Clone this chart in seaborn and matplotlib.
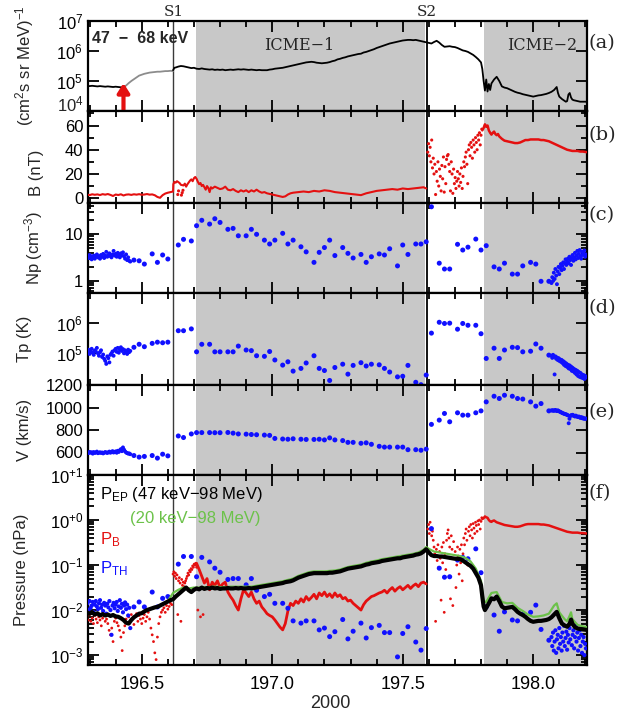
import numpy as np
import pandas as pd
import matplotlib
matplotlib.use("Agg")
import matplotlib.pyplot as plt
import matplotlib.ticker as mticker
import seaborn as sns

sns.set_style("ticks")
plt.rcParams["font.family"] = ["Liberation Sans", "DejaVu Sans"]
plt.rcParams["mathtext.fontset"] = "custom"
plt.rcParams["mathtext.rm"] = "Liberation Sans"
plt.rcParams["mathtext.it"] = "Liberation Sans:italic"
plt.rcParams["mathtext.bf"] = "Liberation Sans:bold"
plt.rcParams["axes.unicode_minus"] = True

RED = "#e41010"
BLUE = "#1010ff"
GREEN = "#6cc24a"
SHADE = "#c8c8c8"
SERIF = "DejaVu Serif"

# ---------------- event times (day of year 2000) ----------------
XMIN, XMAX = 196.294, 198.205
S1, S2 = 196.621, 197.594
ICME1 = (196.707, 197.585)
ICME2_START = 197.81
arrow_t, arrow_tip_log = 196.43, 4.93

# ---------------- (a) 47-68 keV flux, log10 ----------------
flux_pre = [(196.29,4.84),(196.30,4.83),(196.31,4.84),(196.32,4.83),(196.33,4.82),(196.34,4.83),(196.35,4.82),
            (196.36,4.81),(196.37,4.82),(196.38,4.81),(196.39,4.80),(196.40,4.81),(196.41,4.80),(196.42,4.79),(196.43,4.79)]
flux_rise = [(196.43,4.79),(196.44,4.85),(196.45,4.93),(196.46,5.00),(196.47,5.06),(196.48,5.12),(196.49,5.18),
             (196.50,5.21),(196.51,5.24),(196.52,5.26),(196.53,5.28),(196.54,5.29),(196.55,5.30),(196.56,5.31),
             (196.57,5.31),(196.58,5.32),(196.59,5.33),(196.60,5.33),(196.61,5.34),(196.62,5.33)]
flux_post = [(196.62,5.36),(196.625,5.44),(196.63,5.45),(196.64,5.48),(196.65,5.50),(196.66,5.49),(196.67,5.47),
             (196.68,5.45),(196.69,5.43),(196.70,5.44),(196.71,5.41),(196.72,5.40),(196.73,5.42),(196.74,5.40),
             (196.75,5.39),(196.76,5.38),(196.77,5.39),(196.78,5.37),(196.79,5.38),(196.80,5.37),(196.81,5.38),
             (196.82,5.36),(196.83,5.37),(196.84,5.38),(196.85,5.37),(196.86,5.38),(196.87,5.39),(196.88,5.38),
             (196.89,5.39),(196.90,5.38),(196.91,5.37),(196.92,5.38),(196.93,5.37),(196.94,5.36),(196.95,5.37),
             (196.96,5.36),(196.97,5.36),(196.98,5.36),(196.99,5.38),(197.00,5.39),(197.01,5.41),(197.02,5.42),
             (197.03,5.43),(197.04,5.44),(197.05,5.46),(197.06,5.48),(197.07,5.50),(197.08,5.52),(197.09,5.54),
             (197.10,5.56),(197.11,5.58),(197.12,5.60),(197.13,5.62),(197.14,5.63),(197.15,5.64),(197.16,5.63),
             (197.17,5.61),(197.18,5.60),(197.19,5.59),(197.20,5.60),(197.21,5.61),(197.22,5.63),(197.23,5.66),
             (197.24,5.68),(197.25,5.72),(197.26,5.74),(197.27,5.77),(197.28,5.79),(197.29,5.82),(197.30,5.84),
             (197.31,5.86),(197.32,5.88),(197.33,5.90),(197.34,5.91),(197.35,5.95),(197.36,5.97),(197.37,6.00),
             (197.38,6.03),(197.39,6.06),(197.40,6.10),(197.41,6.13),(197.42,6.16),(197.43,6.19),(197.44,6.22),
             (197.45,6.25),(197.46,6.27),(197.47,6.29),(197.48,6.31),(197.49,6.33),(197.50,6.35),(197.51,6.36),
             (197.52,6.37),(197.53,6.37),(197.54,6.36),(197.55,6.37),(197.56,6.35),(197.57,6.33),(197.58,6.31),
             (197.59,6.29),(197.60,6.27),(197.61,6.25),(197.62,6.30),(197.63,6.34),(197.64,6.28),(197.65,6.20),
             (197.66,6.14),(197.67,6.15),(197.68,6.16),(197.69,6.14),(197.70,6.13),(197.71,6.10),(197.72,6.06),
             (197.73,6.02),(197.74,6.00),(197.75,5.97),(197.76,5.92),(197.77,5.87),(197.78,5.80),(197.79,5.72),
             (197.80,5.62),(197.805,5.40),(197.81,5.00),(197.815,4.68),(197.82,5.05),(197.825,4.65),(197.83,4.90),
             (197.835,4.70),(197.84,4.92),(197.85,5.05),(197.86,5.14),(197.87,5.00),(197.88,4.82),(197.89,4.78),
             (197.90,4.76),(197.91,4.72),(197.92,4.68),(197.93,4.64),(197.94,4.61),(197.95,4.59),(197.96,4.56),
             (197.97,4.54),(197.98,4.52),(197.99,4.50),(198.00,4.48),(198.01,4.50),(198.02,4.52),(198.03,4.53),
             (198.04,4.55),(198.05,4.57),(198.06,4.60),(198.07,4.64),(198.08,4.70),(198.09,4.80),(198.095,4.60),
             (198.10,4.48),(198.11,4.40),(198.12,4.34),(198.125,4.31),(198.13,4.33),(198.135,4.55),(198.14,4.60),
             (198.145,4.45),(198.15,4.38),(198.155,4.36),(198.16,4.35),(198.17,4.33),(198.18,4.31),(198.19,4.31),
             (198.20,4.31),(198.21,4.30)]

# ---------------- (b) B (nT) ----------------
b_main = [(196.29,3.0),(196.30,2.5),(196.31,3.2),(196.32,2.8),(196.33,3.1),(196.34,2.6),(196.35,3.3),(196.36,2.9),
          (196.37,3.4),(196.38,2.7),(196.39,1.8),(196.40,3.0),(196.41,2.6),(196.42,3.2),(196.43,2.2),(196.44,2.9),
          (196.45,3.1),(196.46,2.7),(196.47,3.2),(196.48,2.9),(196.49,3.3),(196.50,2.8),(196.51,3.0),(196.52,3.4),
          (196.53,2.9),(196.54,3.1),(196.55,2.4),(196.56,1.0),(196.57,0.3),(196.58,2.5),(196.59,3.8),(196.60,4.5),
          (196.61,5.0),(196.62,5.5),(196.621,11.5),(196.625,13.5),(196.63,12.8),(196.635,14.0),(196.645,12.5),
          (196.65,11.0),(196.66,10.5),(196.665,12.0),(196.67,9.5),(196.675,11.5),(196.68,13.0),(196.685,14.5),
          (196.69,15.5),(196.695,14.0),(196.70,16.5),(196.705,17.5),(196.71,16.0),(196.715,13.5),(196.72,11.5),
          (196.725,12.5),(196.73,10.0),(196.735,11.0),(196.74,9.0),(196.745,7.0),(196.75,10.0),(196.755,8.5),
          (196.76,5.0),(196.765,9.0),(196.77,8.0),(196.78,9.5),(196.79,8.5),(196.80,7.5),(196.81,8.0),(196.82,9.5),
          (196.83,7.0),(196.84,6.5),(196.85,7.5),(196.86,6.0),(196.87,5.0),(196.88,6.5),(196.89,5.5),(196.90,6.5),
          (196.91,5.0),(196.92,6.5),(196.93,5.5),(196.94,7.0),(196.95,5.5),(196.96,4.5),(196.97,5.0),(196.98,4.0),
          (196.99,3.5),(197.00,3.0),(197.01,2.5),(197.02,2.0),(197.03,1.5),(197.04,1.0),(197.05,1.5),(197.06,3.0),
          (197.07,4.0),(197.08,4.5),(197.10,5.0),(197.12,5.5),(197.14,5.0),(197.16,6.0),(197.18,5.5),(197.20,6.5),
          (197.22,6.0),(197.24,5.0),(197.26,4.5),(197.28,4.0),(197.30,3.5),(197.32,3.0),(197.34,2.5),(197.36,4.0),
          (197.38,5.0),(197.40,6.0),(197.42,6.5),(197.44,7.0),(197.46,7.5),(197.48,7.0),(197.50,8.0),(197.52,7.5),
          (197.54,8.0),(197.56,8.5),(197.58,9.0),(197.59,8.0)]
b_dips = [(196.638,3.0),(196.641,6.0),(196.652,2.5),(196.655,4.5),(196.658,6.5)]
t_sheath2 = [197.596,197.599,197.602,197.605,197.608,197.611,197.614,197.617,197.620,197.623,
             197.626,197.629,197.632,197.635,197.638,197.641,197.644,197.647,197.650,197.653,
             197.656,197.659,197.662,197.665,197.668,197.671,197.674,197.677,197.680,197.683,
             197.686,197.689,197.692,197.695,197.698,197.701,197.704,197.707,197.710,197.713,
             197.716,197.719,197.722,197.725,197.728,197.731,197.734,197.737,197.740,197.743,
             197.746,197.749,197.752,197.755,197.758,197.761,197.764,197.767,197.770,197.773,
             197.776,197.779,197.782,197.785,197.788,197.791,197.794,197.797,197.800,197.803]
b_sheath2 = [38,45,35,42,30,48,25,33,20,28,
             3,22,14,30,10,24,18,6,27,16,
             34,5,26,12,32,35,36,28,22,6,
             30,20,4,24,12,17,8,14,22,16,
             10,20,13,25,8,18,30,26,34,38,
             28,12,40,44,35,46,42,33,48,44,
             38,50,46,40,52,48,54,44,52,57]
b_icme2 = [(197.805,56),(197.81,58),(197.815,61),(197.82,59),(197.825,60),(197.83,56),(197.835,54),(197.84,52.5),
           (197.845,54),(197.85,55),(197.855,53),(197.86,52),(197.865,53),(197.87,51),(197.88,49),(197.89,47.5),
           (197.90,47),(197.91,46.5),(197.92,46),(197.93,45.5),(197.94,45.5),(197.95,46),(197.96,47),(197.97,48),
           (197.98,48),(197.99,48.5),(198.00,48.5),(198.01,48.5),(198.02,48.5),(198.03,48),(198.04,48),(198.05,47.5),
           (198.06,47),(198.07,46),(198.08,45),(198.09,44),(198.10,43),(198.11,42),(198.12,41),(198.13,40),
           (198.14,39.5),(198.15,39),(198.16,39),(198.17,39),(198.18,38.5),(198.19,38.5),(198.205,38)]

# ---------------- plasma: early cluster, hourly, late cluster ----------------
t_early = [196.292,196.296,196.300,196.304,196.308,196.312,196.316,196.320,196.324,196.328,
           196.332,196.336,196.340,196.344,196.348,196.352,196.356,196.360,196.364,196.368,
           196.372,196.376,196.380,196.384,196.388,196.392,196.396,196.400,196.404,196.408,
           196.412,196.416,196.420,196.424,196.428,196.432,196.436,196.440,196.444,196.448,
           196.452,196.456]
np_early = [3.3,3.1,3.6,3.4,2.9,3.2,3.5,3.0,3.3,3.7,3.2,3.4,3.0,3.6,3.3,3.8,3.1,3.5,4.2,3.3,
            3.6,3.9,3.4,3.2,3.7,4.4,3.5,3.8,3.3,4.0,3.6,3.2,3.9,3.5,4.1,3.4,3.0,3.7,2.8,3.2,2.7,2.6]
tp_early_log = [5.05,5.12,4.98,5.08,5.15,5.02,4.95,5.10,5.06,5.18,5.00,4.92,5.04,5.10,4.88,4.96,4.82,4.75,4.65,4.90,
                4.84,4.70,4.95,5.00,5.06,4.92,5.10,5.15,5.05,5.18,5.02,5.12,5.20,5.08,5.14,5.00,5.10,5.06,4.98,5.12,
                5.04,5.08]
v_early = [600,595,605,598,602,590,604,596,600,608,594,598,602,596,600,592,598,604,600,596,
           602,608,598,605,612,600,604,610,598,615,605,620,630,612,645,625,610,600,595,590,592,585]
pth_early_log = [-1.85,-2.00,-1.80,-1.95,-1.90,-1.82,-2.05,-1.88,-1.80,-1.92,-1.98,-1.85,-1.78,-1.95,-1.88,-2.02,
                 -1.84,-1.90,-2.08,-1.86,-1.94,-1.80,-2.00,-2.55,-1.90,-1.84,-1.96,-1.88,-1.82,-2.02,-1.92,-1.78,
                 -1.95,-1.86,-2.05,-1.90,-1.83,-1.98,-1.88,-2.12,-1.95,-2.40]

t_hour = [196.47,196.49,196.51,196.54,196.56,196.58,196.60,
          196.64,196.66,196.69,
          196.71,196.73,196.76,196.78,196.80,196.83,196.85,196.87,196.90,196.92,196.94,196.97,196.99,
          197.01,197.04,197.06,197.08,197.11,197.13,197.16,197.18,197.20,197.22,197.24,197.27,197.29,
          197.31,197.34,197.36,197.38,197.41,197.43,197.45,197.48,197.50,197.52,197.55,197.57,197.59,
          197.61,197.64,197.66,197.68,197.71,197.73,197.75,197.78,197.80,
          197.82,197.85,197.87,197.89,197.92,197.94,197.96,197.99,
          198.01,198.03,198.06]
np_hour = [2.8,2.7,2.3,3.8,2.5,3.6,2.95,
           5.9,7.8,7.2,
           15.3,20,16.6,21.6,18,12.8,13.4,9.3,9.3,12.8,10,7.5,6.2,
           7.5,10.5,6.2,7.5,5.4,4.2,2.5,4.1,5.2,7.5,3.5,5.2,3.9,
           3.1,3.7,2.5,3.3,3.8,3.6,4.9,2.1,5.9,3.7,6.2,6.2,6.9,
           39,2.4,1.8,1.8,6.1,4.6,5.3,7.9,4.6,
           5.7,2.0,1.8,2.4,1.4,1.4,2.1,2.5,
           2.3,0.98,0.98]
tp_hour_log = [5.2,5.3,5.22,5.33,5.37,5.35,5.37,
               5.75,5.75,5.81,
               5.05,5.3,5.3,5.05,5.05,5.05,5.05,5.24,5.11,5.09,4.92,4.9,5.06,
               4.78,4.61,4.72,4.41,4.5,4.68,4.92,4.5,4.43,4.10,4.53,4.64,4.31,
               4.6,4.69,4.58,4.64,4.62,4.5,4.38,4.22,4.24,4.6,4.04,3.96,4.28,
               5.67,6.03,5.99,6.0,5.8,5.99,5.93,5.93,5.65,
               4.83,5.17,4.83,5.11,5.2,5.19,5.05,5.07,
               5.31,5.17,4.94]
v_hour = [573,559,565,573,550,585,570,
          747,733,765,
          777,777,777,776,776,778,772,765,763,760,758,755,752,
          725,720,718,722,718,716,716,718,712,730,712,706,690,
          690,682,686,673,655,648,648,648,648,625,625,620,630,
          850,888,947,873,953,932,932,953,970,
          1050,1100,1080,1109,1100,1080,1075,1050,
          1012,1035,970]
pth_hour_log = [-1.93,-1.82,-1.93,-1.60,-1.93,-1.74,-1.70,
                -0.98,-0.81,-0.81,
                -1.26,-0.83,-0.93,-1.07,-1.16,-1.32,-1.30,-1.30,-1.44,-1.30,-1.56,-1.70,-1.65,
                -1.85,-1.85,-1.96,-2.24,-2.29,-2.24,-2.24,-2.44,-2.40,-2.59,-2.48,-2.21,-2.64,
                -2.47,-2.29,-2.62,-2.39,-2.34,-2.50,-2.50,-3.04,-2.52,-2.37,-2.71,-2.89,-2.41,
                -0.19,-1.07,-1.27,-1.26,-0.89,-0.83,-0.86,-0.64,-1.17,
                -1.93,-2.11,-2.47,-2.04,-2.22,-2.24,-2.09,-2.05,
                -1.89,-2.43,-2.67]

t_late = [198.070,198.073,198.076,198.079,198.082,198.085,198.088,198.091,198.094,198.097,
          198.100,198.103,198.106,198.109,198.112,198.115,198.118,198.121,198.124,198.127,
          198.130,198.133,198.136,198.139,198.142,198.145,198.148,198.151,198.154,198.157,
          198.160,198.163,198.166,198.169,198.172,198.175,198.178,198.181,198.184,198.187,
          198.190,198.193,198.196,198.199,198.202]
np_late = [0.9,1.2,1.0,1.5,1.1,1.8,1.3,0.85,1.6,2.0,1.4,1.9,2.3,1.7,2.1,2.5,1.8,2.4,2.9,2.2,
           2.6,3.0,2.4,3.3,2.8,2.2,3.1,3.6,2.7,3.2,4.0,2.9,3.5,4.4,3.1,3.8,4.6,3.4,3.0,4.2,
           3.6,3.9,4.5,3.3,3.7]
tp_late_log = [4.92,4.85,4.95,4.88,4.30,4.90,4.82,4.86,4.78,4.84,4.75,4.80,4.72,4.78,4.68,4.74,4.62,4.70,4.58,4.66,
               4.55,4.62,4.50,4.60,4.48,4.56,4.42,4.52,4.40,4.48,4.35,4.45,4.30,4.42,4.25,4.38,4.22,4.35,4.20,4.30,
               4.18,4.28,4.15,4.25,4.20]
v_late = [975,972,976,970,974,978,972,968,975,970,965,962,958,955,950,948,945,942,940,938,
          935,930,860,900,925,932,928,935,930,925,920,928,922,918,915,920,912,908,915,905,
          910,900,905,898,902]
pth_late_log = [-2.60,-2.80,-2.50,-2.90,-2.70,-2.45,-2.95,-2.65,-2.55,-2.85,-2.40,-2.75,-2.60,-2.90,-2.50,
                -2.70,-2.35,-2.80,-2.62,-2.48,-2.88,-2.55,-2.72,-2.40,-2.65,-2.30,-2.78,-2.55,-2.45,-2.85,
                -2.60,-2.35,-2.70,-2.50,-2.90,-2.62,-2.45,-2.80,-2.55,-2.95,-2.70,-2.60,-3.00,-2.75,-2.85]

# ---------------- (f) pressures, log10 nPa ----------------
pep_log = [(196.29,-2.05),(196.30,-2.08),(196.31,-2.05),(196.32,-2.10),(196.33,-2.07),(196.34,-2.12),(196.35,-2.09),
           (196.36,-2.12),(196.37,-2.10),(196.38,-2.13),(196.39,-2.11),(196.40,-2.14),(196.41,-2.15),(196.42,-2.18),
           (196.43,-2.22),(196.44,-2.28),(196.45,-2.30),(196.46,-2.22),(196.47,-2.16),(196.48,-2.12),(196.49,-2.08),
           (196.50,-2.07),(196.51,-2.03),(196.52,-2.00),(196.53,-1.98),(196.54,-1.96),(196.55,-1.94),(196.56,-1.93),
           (196.57,-1.90),(196.58,-1.87),(196.59,-1.84),(196.60,-1.81),(196.61,-1.78),(196.62,-1.76),(196.63,-1.70),
           (196.64,-1.65),(196.65,-1.60),(196.66,-1.55),(196.67,-1.50),(196.68,-1.56),(196.69,-1.60),(196.70,-1.55),
           (196.71,-1.52),(196.72,-1.54),(196.73,-1.50),(196.74,-1.53),(196.75,-1.51),(196.76,-1.52),(196.77,-1.50),
           (196.78,-1.52),(196.79,-1.51),(196.80,-1.53),(196.81,-1.52),(196.82,-1.52),(196.83,-1.51),(196.84,-1.52),
           (196.85,-1.52),(196.86,-1.51),(196.87,-1.52),(196.88,-1.51),(196.89,-1.52),(196.90,-1.52),(196.91,-1.51),
           (196.92,-1.52),(196.93,-1.51),(196.94,-1.50),(196.95,-1.49),(196.96,-1.48),(196.97,-1.47),(196.98,-1.46),
           (196.99,-1.45),(197.00,-1.44),(197.01,-1.43),(197.02,-1.42),(197.03,-1.41),(197.04,-1.40),(197.05,-1.38),
           (197.06,-1.37),(197.07,-1.36),(197.08,-1.34),(197.09,-1.31),(197.10,-1.28),(197.11,-1.26),(197.12,-1.24),
           (197.13,-1.22),(197.14,-1.20),(197.15,-1.19),(197.16,-1.18),(197.17,-1.18),(197.18,-1.18),(197.19,-1.18),
           (197.20,-1.18),(197.21,-1.18),(197.22,-1.17),(197.23,-1.17),(197.24,-1.16),(197.25,-1.15),(197.26,-1.14),
           (197.27,-1.12),(197.28,-1.10),(197.29,-1.08),(197.30,-1.07),(197.31,-1.06),(197.32,-1.05),(197.33,-1.04),
           (197.34,-1.03),(197.35,-1.01),(197.36,-0.99),(197.37,-0.98),(197.38,-0.96),(197.39,-0.95),(197.40,-0.94),
           (197.41,-0.93),(197.42,-0.91),(197.43,-0.90),(197.44,-0.89),(197.45,-0.88),(197.46,-0.87),(197.47,-0.86),
           (197.48,-0.85),(197.49,-0.85),(197.50,-0.83),(197.51,-0.82),(197.52,-0.81),(197.53,-0.80),(197.54,-0.79),
           (197.55,-0.77),(197.56,-0.76),(197.57,-0.74),(197.58,-0.70),(197.59,-0.65),(197.60,-0.72),(197.61,-0.78),
           (197.62,-0.80),(197.63,-0.80),(197.64,-0.81),(197.65,-0.81),(197.66,-0.82),(197.67,-0.83),(197.68,-0.84),
           (197.69,-0.85),(197.70,-0.86),(197.71,-0.86),(197.72,-0.87),(197.73,-0.90),(197.74,-0.94),(197.75,-0.98),
           (197.76,-1.02),(197.77,-1.08),(197.78,-1.18),(197.79,-1.28),(197.80,-1.45),(197.805,-1.70),(197.81,-1.92),
           (197.815,-2.00),(197.82,-1.95),(197.83,-1.85),(197.84,-1.74),(197.85,-1.76),(197.86,-1.70),(197.87,-1.80),
           (197.88,-1.92),(197.89,-1.96),(197.90,-1.95),(197.91,-1.94),(197.92,-1.93),(197.93,-1.98),(197.94,-2.04),
           (197.95,-2.08),(197.96,-2.11),(197.97,-2.15),(197.98,-2.20),(197.99,-2.24),(198.00,-2.26),(198.01,-2.25),
           (198.02,-2.24),(198.03,-2.24),(198.04,-2.23),(198.05,-2.22),(198.06,-2.20),(198.07,-2.16),(198.08,-2.10),
           (198.09,-2.04),(198.10,-2.18),(198.11,-2.30),(198.12,-2.34),(198.13,-2.37),(198.14,-2.30),(198.145,-2.21),
           (198.15,-2.30),(198.16,-2.38),(198.17,-2.41),(198.18,-2.42),(198.19,-2.43),(198.205,-2.44)]
pep20_log = [(196.60,-1.80),(196.62,-1.62),(196.64,-1.55),(196.66,-1.50),(196.68,-1.52),(196.70,-1.50),(196.72,-1.50),
             (196.74,-1.49),(196.76,-1.49),(196.78,-1.48),(196.80,-1.49),(196.82,-1.49),(196.84,-1.48),(196.86,-1.48),
             (196.88,-1.48),(196.90,-1.48),(196.92,-1.48),(196.94,-1.46),(196.96,-1.44),(196.98,-1.42),(197.00,-1.40),
             (197.02,-1.38),(197.04,-1.36),(197.06,-1.33),(197.08,-1.30),(197.10,-1.24),(197.12,-1.20),(197.14,-1.16),
             (197.16,-1.14),(197.18,-1.14),(197.20,-1.14),(197.22,-1.13),(197.24,-1.12),(197.26,-1.10),(197.28,-1.06),
             (197.30,-1.03),(197.32,-1.01),(197.34,-0.99),(197.36,-0.95),(197.38,-0.92),(197.40,-0.90),(197.42,-0.87),
             (197.44,-0.85),(197.46,-0.83),(197.48,-0.81),(197.50,-0.79),(197.52,-0.77),(197.54,-0.75),(197.56,-0.72),
             (197.58,-0.66),(197.59,-0.60),(197.60,-0.64),(197.62,-0.70),(197.64,-0.72),(197.66,-0.74),(197.68,-0.76),
             (197.70,-0.78),(197.72,-0.80),(197.74,-0.84),(197.76,-0.92),(197.78,-1.08),(197.80,-1.35),(197.81,-1.80),
             (197.82,-1.82),(197.84,-1.62),(197.86,-1.60),(197.88,-1.82),(197.90,-1.85),(197.92,-1.84),(197.94,-1.95),
             (197.96,-2.02),(197.98,-2.10),(198.00,-2.15),(198.02,-2.14),(198.04,-2.12),(198.06,-2.08),(198.08,-1.90),
             (198.09,-1.85),(198.10,-2.05),(198.12,-2.20),(198.13,-2.25),(198.14,-2.12),(198.145,-2.05),(198.15,-2.20),
             (198.17,-2.33),(198.19,-2.36),(198.205,-2.38)]
pb_pre_log = [(196.290,-2.15),(196.295,-2.22),(196.300,-2.10),(196.305,-2.25),(196.310,-2.18),(196.315,-2.30),
              (196.320,-2.12),(196.325,-2.20),(196.330,-2.28),(196.335,-2.15),(196.340,-2.22),(196.345,-2.35),
              (196.350,-2.18),(196.355,-2.12),(196.360,-2.25),(196.365,-2.20),(196.370,-2.30),(196.375,-2.45),
              (196.380,-2.55),(196.385,-2.40),(196.390,-2.70),(196.395,-2.25),(196.400,-2.18),(196.405,-2.28),
              (196.410,-2.35),(196.415,-2.45),(196.420,-2.60),(196.425,-2.90),(196.430,-2.50),(196.435,-2.35),
              (196.440,-2.20),(196.445,-2.30),(196.450,-2.15),(196.455,-2.25),(196.460,-2.10),(196.465,-2.20),
              (196.470,-2.32),(196.475,-2.15),(196.480,-2.08),(196.485,-2.25),(196.490,-2.12),(196.495,-2.20),
              (196.500,-2.30),(196.505,-2.18),(196.510,-2.10),(196.515,-2.25),(196.520,-2.15),(196.525,-2.05),
              (196.530,-2.20),(196.535,-2.40),(196.540,-2.55),(196.545,-2.70),(196.550,-2.95),(196.555,-3.10),
              (196.560,-2.60),(196.565,-2.30),(196.570,-2.15),(196.575,-2.05),(196.580,-2.00),(196.585,-1.95),
              (196.590,-2.05),(196.595,-1.90),(196.600,-1.98),(196.605,-1.92),(196.610,-1.85),(196.615,-1.88)]
pb_sheath1_log = [(196.620,-1.20),(196.623,-1.15),(196.626,-1.25),(196.629,-1.18),(196.632,-1.30),(196.635,-1.22),
                  (196.638,-2.10),(196.641,-1.35),(196.644,-1.28),(196.647,-1.40),(196.650,-2.25),(196.653,-1.32),
                  (196.656,-1.45),(196.659,-1.38),(196.662,-1.48),(196.665,-1.40),(196.668,-1.35),(196.671,-1.30),
                  (196.674,-1.25),(196.677,-1.18),(196.680,-1.22),(196.683,-1.12),(196.686,-1.15),(196.689,-1.08),
                  (196.692,-1.10),(196.695,-1.02),(196.698,-1.05),(196.701,-0.98),(196.704,-1.00),(196.707,-0.96),
                  (196.710,-1.05),(196.715,-2.00),(196.725,-2.15),(196.735,-2.10)]
pb_icme1_log = [(196.71,-0.96),(196.72,-1.10),(196.73,-1.25),(196.74,-1.40),(196.75,-1.30),(196.76,-1.55),(196.77,-1.38),
                (196.78,-1.45),(196.79,-1.35),(196.80,-1.50),(196.81,-1.42),(196.82,-1.38),(196.83,-1.60),(196.84,-1.70),
                (196.85,-1.78),(196.86,-1.90),(196.87,-2.00),(196.88,-1.75),(196.89,-1.55),(196.90,-1.62),(196.91,-1.70),
                (196.92,-1.60),(196.93,-1.75),(196.94,-1.85),(196.95,-1.80),(196.96,-1.93),(196.97,-2.00),(196.98,-2.08),
                (196.99,-2.12),(197.00,-2.15),(197.01,-2.22),(197.02,-2.30),(197.03,-2.38),(197.04,-2.44),(197.05,-2.30),
                (197.06,-2.02),(197.07,-1.85),(197.08,-1.90),(197.09,-1.80),(197.10,-1.85),(197.11,-1.75),(197.12,-1.82),
                (197.13,-1.70),(197.14,-1.78),(197.15,-1.72),(197.16,-1.65),(197.17,-1.75),(197.18,-1.62),(197.19,-1.68),
                (197.20,-1.60),(197.21,-1.70),(197.22,-1.64),(197.23,-1.72),(197.24,-1.62),(197.25,-1.70),(197.26,-1.66),
                (197.27,-1.75),(197.28,-1.72),(197.29,-1.80),(197.30,-1.78),(197.31,-1.85),(197.32,-1.90),(197.33,-1.95),
                (197.34,-2.00),(197.35,-1.88),(197.36,-1.80),(197.37,-1.75),(197.38,-1.70),(197.39,-1.68),(197.40,-1.65),
                (197.41,-1.62),(197.42,-1.60),(197.43,-1.56),(197.44,-1.62),(197.45,-1.55),(197.46,-1.50),(197.47,-1.58),
                (197.48,-1.52),(197.49,-1.48),(197.50,-1.55),(197.51,-1.50),(197.52,-1.45),(197.53,-1.52),(197.54,-1.46),
                (197.55,-1.42),(197.56,-1.48),(197.57,-1.40),(197.58,-1.38),(197.59,-1.42)]
pb_sheath2_log = [-0.20,-0.10,-0.30,-0.05,-0.22,-0.35,-0.25,-0.45,-0.60,-0.75,
                  -2.25,-0.65,-0.90,-0.55,-1.05,-0.70,-0.85,-1.78,-0.60,-0.95,
                  -0.50,-2.05,-0.75,-1.10,-0.45,-0.30,-0.22,-0.40,-0.60,-1.75,
                  -0.35,-0.65,-1.90,-0.48,-0.85,-0.70,-1.50,-1.00,-0.60,-0.80,
                  -1.20,-0.65,-0.95,-0.55,-1.35,-0.75,-0.40,-0.55,-0.30,-0.20,
                  -0.45,-1.00,-0.25,-0.15,-0.35,-0.10,-0.22,-0.40,-0.08,-0.18,
                  -0.30,-0.05,-0.12,-0.25,-0.02,-0.10,0.00,-0.20,-0.03,0.05]
pb_icme2_log = [(197.805,0.02),(197.81,0.04),(197.815,0.08),(197.82,0.06),(197.825,0.05),(197.83,0.00),(197.835,-0.03),
                (197.84,-0.04),(197.845,-0.02),(197.85,-0.01),(197.855,-0.03),(197.86,-0.05),(197.87,-0.07),(197.88,-0.09),
                (197.89,-0.11),(197.90,-0.12),(197.91,-0.13),(197.92,-0.14),(197.93,-0.15),(197.94,-0.15),(197.95,-0.14),
                (197.96,-0.12),(197.97,-0.10),(197.98,-0.09),(197.99,-0.09),(198.00,-0.09),(198.01,-0.09),(198.02,-0.09),
                (198.03,-0.10),(198.04,-0.10),(198.05,-0.11),(198.06,-0.12),(198.07,-0.14),(198.08,-0.16),(198.09,-0.18),
                (198.10,-0.20),(198.11,-0.22),(198.12,-0.24),(198.13,-0.26),(198.14,-0.27),(198.15,-0.28),(198.16,-0.28),
                (198.17,-0.28),(198.18,-0.29),(198.19,-0.29),(198.205,-0.30)]

for arr in (np_early, tp_early_log, v_early, pth_early_log):
    assert len(arr) == len(t_early)
for arr in (np_hour, tp_hour_log, v_hour, pth_hour_log):
    assert len(arr) == len(t_hour)
for arr in (np_late, tp_late_log, v_late, pth_late_log):
    assert len(arr) == len(t_late)
assert len(b_sheath2) == len(t_sheath2) == len(pb_sheath2_log)

# ---------------- helpers ----------------
def frame(t, v, log=False):
    v = np.asarray(v, dtype=float)
    return pd.DataFrame({"t": np.asarray(t, dtype=float), "v": 10 ** v if log else v})

def line(ax, pts, color, lw, log=False, z=3):
    t, v = zip(*pts)
    sns.lineplot(data=frame(t, v, log), x="t", y="v", ax=ax, color=color, lw=lw,
                 estimator=None, sort=False, zorder=z, legend=False)

def dots(ax, t, v, color, s, log=False, z=4):
    sns.scatterplot(data=frame(t, v, log), x="t", y="v", ax=ax, color=color, s=s,
                    edgecolor="none", linewidth=0, zorder=z, legend=False)

def dots_pts(ax, pts, color, s, log=False, z=4):
    t, v = zip(*pts)
    dots(ax, t, v, color, s, log, z)

# ---------------- figure ----------------
W, H = 644, 717
L, R = 88, 586.7
fig = plt.figure(figsize=(W / 100, H / 100), dpi=100)
bounds = [(21, 111), (111, 203), (203, 293), (293, 385), (385, 475), (475, 665)]
axes = [fig.add_axes([L / W, 1 - b / H, (R - L) / W, (b - t) / H]) for t, b in bounds]
ax_a, ax_b, ax_c, ax_d, ax_e, ax_f = axes

for ax in axes:
    ax.axvspan(ICME1[0], ICME1[1], color=SHADE, lw=0, zorder=0)
    ax.axvspan(ICME2_START, XMAX + 1, color=SHADE, lw=0, zorder=0)
    ax.axvline(S1, color="#3a3a3a", lw=1.0, zorder=1)
    ax.axvline(S2, color="black", lw=1.3, zorder=1)

# (a)
line(ax_a, flux_pre, "black", 1.3, log=True)
line(ax_a, flux_rise, "#8c8c8c", 1.3, log=True)
line(ax_a, flux_post, "black", 1.3, log=True)
ax_a.set_yscale("log")
ax_a.set_ylim(1e4, 1e7)
ax_a.yaxis.set_major_locator(mticker.FixedLocator([1e4, 1e5, 1e6, 1e7]))
ax_a.yaxis.set_major_formatter(mticker.FixedFormatter(["", "10$^{5}$", "10$^{6}$", "10$^{7}$"]))
ax_a.yaxis.set_minor_locator(mticker.NullLocator())
ax_a.annotate("", xy=(arrow_t, 10 ** arrow_tip_log), xytext=(arrow_t, 10 ** 3.97),
              arrowprops=dict(arrowstyle="-|>,head_length=0.55,head_width=0.35", color=RED, lw=3,
                              shrinkA=0, shrinkB=0), annotation_clip=False, zorder=6)

# (b)
line(ax_b, b_main, RED, 1.5)
dots_pts(ax_b, b_dips, RED, 5)
dots(ax_b, t_sheath2, b_sheath2, RED, 5)
line(ax_b, b_icme2, RED, 1.8)
ax_b.set_ylim(-4, 72)
ax_b.yaxis.set_major_locator(mticker.FixedLocator([0, 20, 40, 60]))
ax_b.yaxis.set_minor_locator(mticker.MultipleLocator(10))

# (c)
for t, v in ((t_early, np_early), (t_hour, np_hour), (t_late, np_late)):
    dots(ax_c, t, v, BLUE, 13 if t is t_hour else 8)
ax_c.set_yscale("log")
ax_c.set_ylim(0.55, 47)
ax_c.yaxis.set_major_locator(mticker.FixedLocator([1, 10]))
ax_c.yaxis.set_major_formatter(mticker.FixedFormatter(["1", "10"]))
ax_c.yaxis.set_minor_locator(mticker.LogLocator(base=10, subs=np.arange(2, 10)))
ax_c.yaxis.set_minor_formatter(mticker.NullFormatter())

# (d)
for t, v in ((t_early, tp_early_log), (t_hour, tp_hour_log), (t_late, tp_late_log)):
    dots(ax_d, t, v, BLUE, 13 if t is t_hour else 8, log=True)
ax_d.set_yscale("log")
ax_d.set_ylim(10 ** 3.95, 1e7)
ax_d.yaxis.set_major_locator(mticker.FixedLocator([1e5, 1e6]))
ax_d.yaxis.set_major_formatter(mticker.FixedFormatter(["10$^{5}$", "10$^{6}$"]))
ax_d.yaxis.set_minor_locator(mticker.NullLocator())

# (e)
for t, v in ((t_early, v_early), (t_hour, v_hour), (t_late, v_late)):
    dots(ax_e, t, v, BLUE, 13 if t is t_hour else 8)
ax_e.set_ylim(400, 1200)
ax_e.yaxis.set_major_locator(mticker.FixedLocator([600, 800, 1000, 1200]))

# (f)
dots_pts(ax_f, pb_pre_log, RED, 4, log=True, z=3)
dots_pts(ax_f, pb_sheath1_log, RED, 4, log=True, z=3)
line(ax_f, pb_icme1_log, RED, 2.0, log=True, z=3)
dots(ax_f, t_sheath2, pb_sheath2_log, RED, 4, log=True, z=3)
line(ax_f, pb_icme2_log, RED, 1.8, log=True, z=3)
for t, v in ((t_early, pth_early_log), (t_hour, pth_hour_log), (t_late, pth_late_log)):
    dots(ax_f, t, v, BLUE, 13 if t is t_hour else 9, log=True, z=4)
line(ax_f, pep20_log, GREEN, 1.6, log=True, z=5)
line(ax_f, pep_log, "black", 3.0, log=True, z=6)
ax_f.set_yscale("log")
ax_f.set_ylim(10 ** -3.22, 10)
ax_f.yaxis.set_major_locator(mticker.FixedLocator([1e-3, 1e-2, 1e-1, 1, 10]))
ax_f.yaxis.set_major_formatter(mticker.FixedFormatter(
    ["10$^{-3}$", "10$^{-2}$", "10$^{-1}$", "10$^{+0}$", "10$^{+1}$"]))
ax_f.yaxis.set_minor_locator(mticker.LogLocator(base=10, subs=np.arange(2, 10)))
ax_f.yaxis.set_minor_formatter(mticker.NullFormatter())

# common axis styling
for ax in axes:
    ax.set_xlim(XMIN, XMAX)
    ax.xaxis.set_major_locator(mticker.MultipleLocator(0.5))
    ax.xaxis.set_minor_locator(mticker.MultipleLocator(0.1))
    ax.xaxis.set_major_formatter(mticker.FormatStrFormatter("%.1f"))
    ax.tick_params(which="both", direction="in", top=True, right=True, width=1.3,
                   labelsize=12, pad=3.5, colors="black")
    ax.tick_params(which="major", length=8)
    ax.tick_params(which="minor", length=4.5)
    ax.tick_params(axis="x", labelbottom=False)
    for sp in ax.spines.values():
        sp.set_visible(True)
        sp.set_linewidth(1.6)
        sp.set_color("black")
    ax.set_xlabel("")
    ax.set_ylabel("")
ax_f.tick_params(axis="x", labelbottom=True, labelsize=13, pad=8)

# lowest decade label of (a), lifted slightly so it clears the "60" of (b)
ax_a.text(-4.7 / (R - L), 0.07, "10$^{4}$", transform=ax_a.transAxes,
          fontsize=12, ha="right", va="center")

# y labels (centre x in px, vertical fraction)
ylabels = [(ax_a, r"(cm$^{2}$s sr MeV)$^{-1}$", 25, 0.5),
           (ax_b, "B (nT)", 36, 0.33),
           (ax_c, r"Np (cm$^{-3}$)", 34, 0.5),
           (ax_d, "Tp (K)", 24, 0.5),
           (ax_e, "V (km/s)", 25, 0.5),
           (ax_f, "Pressure (nPa)", 22, 0.5)]
for ax, txt, xc, yf in ylabels:
    ax.set_ylabel(txt, fontsize=12, va="center", ha="center")
    ax.yaxis.set_label_coords((xc - L) / (R - L), yf)

ax_f.set_xlabel("2000", fontsize=13, va="center")
ax_f.xaxis.set_label_coords((330 - L) / (R - L), (665 - 703) / 190)

# annotations in (a)
ax_a.text(196.31, 0.81, "47  \u2212  68 keV", transform=ax_a.get_xaxis_transform(),
          fontsize=11.5, fontweight="bold", ha="left", va="center", zorder=7)
ax_a.text(197.104, 0.733, "ICME\u22121", transform=ax_a.get_xaxis_transform(),
          family=SERIF, fontsize=11.5, ha="center", va="center")
ax_a.text(198.033, 0.733, "ICME\u22122", transform=ax_a.get_xaxis_transform(),
          family=SERIF, fontsize=11.5, ha="center", va="center")
for xs, lab in ((S1, "S1"), (S2, "S2")):
    ax_a.text(xs, (111 - 12) / 90, lab, transform=ax_a.get_xaxis_transform(),
              family=SERIF, fontsize=11, ha="center", va="center")

# legend texts in (f)
ax_f.text(12 / (R - L), (665 - 495) / 190, "P$_{\\rm EP}$ (47 keV\u221298 MeV)", transform=ax_f.transAxes,
          fontsize=12, color="black", ha="left", va="center", zorder=8)
ax_f.text(42 / (R - L), (665 - 519) / 190, "(20 keV\u221298 MeV)", transform=ax_f.transAxes,
          fontsize=12, color=GREEN, ha="left", va="center", zorder=8)
ax_f.text(12 / (R - L), (665 - 540) / 190, "P$_{\\rm B}$", transform=ax_f.transAxes,
          fontsize=12, color=RED, ha="left", va="center", zorder=8)
ax_f.text(12 / (R - L), (665 - 569) / 190, "P$_{\\rm TH}$", transform=ax_f.transAxes,
          fontsize=12, color=BLUE, ha="left", va="center", zorder=8)

# panel letters
for lab, yc in (("(a)", 43), ("(b)", 135), ("(c)", 215), ("(d)", 308), ("(e)", 412), ("(f)", 493)):
    fig.text(589 / W, 1 - yc / H, lab, family=SERIF, fontsize=14, ha="left", va="center")

fig.savefig("out.png", dpi=100)
